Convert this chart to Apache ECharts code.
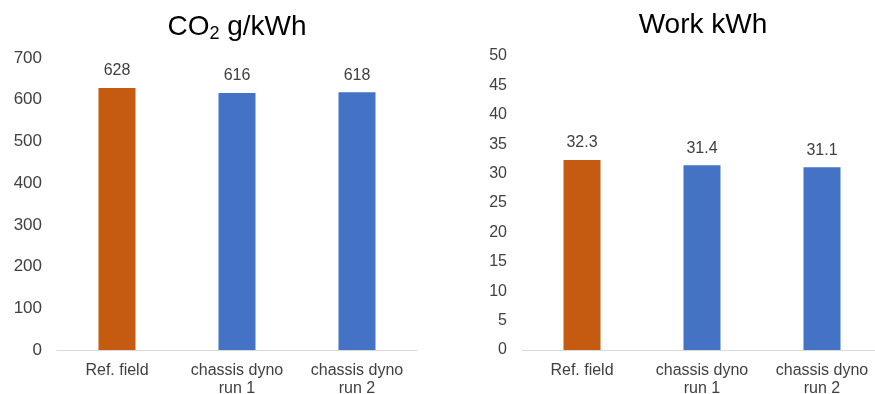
<!DOCTYPE html>
<html><head><meta charset="utf-8">
<script src="https://cdn.jsdelivr.net/npm/echarts@6/dist/echarts.min.js"></script>
<style>html,body{margin:0;padding:0;background:#fff}#c{width:875px;height:394px}</style>
</head><body><div id="c"></div>
<script>
const categories = ['Ref. field', 'chassis dyno\nrun 1', 'chassis dyno\nrun 2'];
const co2Values = [628, 616, 618];
const workValues = [32.3, 31.4, 31.1];
const barColors = ['#C55A11', '#4472C4', '#4472C4'];
const co2Ticks = {min: 0, max: 700, interval: 100};
const workTicks = {min: 0, max: 50, interval: 5};

const font = 'Liberation Sans, Arial, sans-serif';
const chart = echarts.init(document.getElementById('c'));
function mkData(vals){ return vals.map((v,i)=>({value:v, itemStyle:{color:barColors[i]}})); }
function xAx(idx){ return {
  gridIndex:idx, type:'category', data:categories,
  axisLine:{lineStyle:{color:'#D9D9D9', width:1}},
  axisTick:{show:false},
  axisLabel:{color:'#404040', fontFamily:font, fontSize:16, lineHeight:18, margin:12, interval:0}
};}
function yAx(idx, ticks, fs){ return Object.assign({
  gridIndex:idx, type:'value',
  axisLine:{show:false}, axisTick:{show:false}, splitLine:{show:false},
  axisLabel:{color:'#404040', fontFamily:font, fontSize:fs, margin:15}
}, ticks);}
const labelCommon = {show:true, position:'top', color:'#404040', fontFamily:font, fontSize:16, distance:9};
chart.setOption({
  animation:false,
  title:[
    {text:'{a|CO}{s|2}{a| g/kWh}', left:232, top:6, textAlign:'center',
     textStyle:{rich:{a:{fontSize:28, fontWeight:'normal', fontFamily:font, color:'#000'},
                      s:{fontSize:18, fontWeight:'normal', fontFamily:font, color:'#000', padding:[14,0,0,0]}}}},
    {text:'Work kWh', left:698, top:6, textAlign:'center',
     textStyle:{fontSize:28, fontWeight:'normal', fontFamily:font, color:'#000'}}
  ],
  grid:[
    {left:57, top:58, width:360, height:292, containLabel:false, outerBoundsMode:'none'},
    {left:522, top:56, width:360, height:294, containLabel:false, outerBoundsMode:'none'}
  ],
  xAxis:[xAx(0), xAx(1)],
  yAxis:[yAx(0, co2Ticks, 17), yAx(1, workTicks, 16)],
  series:[
    {type:'bar', xAxisIndex:0, yAxisIndex:0, data:mkData(co2Values), barWidth:37, label:labelCommon},
    {type:'bar', xAxisIndex:1, yAxisIndex:1, data:mkData(workValues), barWidth:37, label:labelCommon}
  ]
});
</script></body></html>
